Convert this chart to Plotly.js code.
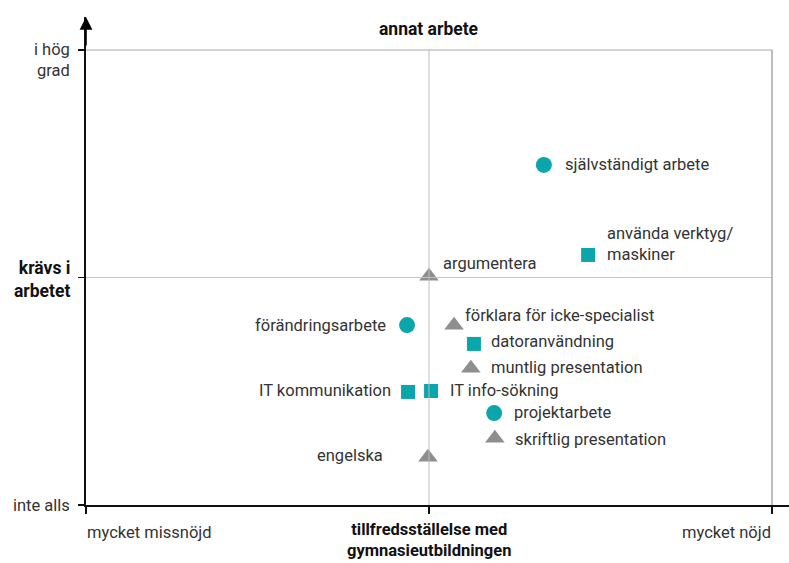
<!DOCTYPE html>
<html>
<head>
<meta charset="utf-8">
<script src="https://cdn.plot.ly/plotly-3.0.1.min.js"></script>
<style>
  html, body { margin: 0; padding: 0; background: #fff; }
  #chart { width: 789px; height: 563px; }
</style>
</head>
<body>
<div id="chart"></div>
<script>
// skills: satisfaction with upper-secondary education (x) vs how much the job requires it (y)
var labels = ['självständigt arbete', 'använda verktyg/<br>maskiner', 'argumentera', 'förändringsarbete',
  'förklara för icke-specialist', 'datoranvändning', 'muntlig presentation', 'IT kommunikation',
  'IT info-sökning', 'projektarbete', 'skriftlig presentation', 'engelska'];
var satisfaction = [1.335, 1.464, 1.0, 0.936, 1.073, 1.131, 1.122, 0.939, 1.006, 1.19, 1.192, 0.997];
var required = [1.495, 1.099, 1.005, 0.791, 0.79, 0.708, 0.601, 0.497, 0.501, 0.404, 0.293, 0.21];
var group = ['circle', 'square', 'triangle', 'circle', 'triangle', 'square', 'triangle', 'square',
  'square', 'circle', 'triangle', 'triangle'];

var yTickText = ['inte alls', 'krävs i<br>arbetet', 'i hög<br>grad'];
var xTickText = ['mycket missnöjd', 'tillfredsställelse med<br>gymnasieutbildningen', 'mycket nöjd'];

// label placement (pixel offsets from marker)
var labelPos = [
  [19, 0, 'left'], [17, 11, 'left'], [12, 13, 'left'], [-19, 0, 'right'],
  [9, 10, 'left'], [15, 2, 'left'], [18, 1, 'left'], [-15, 1, 'right'],
  [17, 1, 'left'], [18, 1, 'left'], [18, -1, 'left'], [-43, 2, 'right']
];

var teal = '#0aa6ab';
var grey = '#8e8e8e';
var font = 'Roboto, Liberation Sans, Arial, sans-serif';
var fs = 16.5;
var fsBold = 17.5;

var styles = {
  circle: { symbol: 'circle', color: teal, size: 16 },
  square: { symbol: 'square', color: teal, size: 14 },
  triangle: { symbol: 'triangle-up', color: grey, size: 17 }
};

var traces = ['circle', 'square', 'triangle'].map(function(g) {
  var idx = group.map(function(v, i) { return v === g ? i : -1; }).filter(function(i) { return i >= 0; });
  return {
    type: 'scatter', mode: 'markers',
    x: idx.map(function(i) { return satisfaction[i]; }),
    y: idx.map(function(i) { return required[i]; }),
    marker: { symbol: styles[g].symbol, color: styles[g].color, size: styles[g].size, line: { width: 0 } },
    hoverinfo: 'skip', showlegend: false, cliponaxis: false
  };
});

var annotations = labels.map(function(t, i) {
  return {
    x: satisfaction[i], y: required[i], xref: 'x', yref: 'y', text: t, showarrow: false,
    xanchor: labelPos[i][2], yanchor: 'middle', align: 'left',
    xshift: labelPos[i][0], yshift: labelPos[i][1],
    font: { family: font, size: fs, color: '#333' }
  };
});

// y axis labels
[0, 1, 2].forEach(function(v) {
  annotations.push({
    x: 0, y: v, xref: 'x', yref: 'y', text: v === 1 ? '<b>' + yTickText[v] + '</b>' : yTickText[v],
    showarrow: false, xanchor: 'right', yanchor: v === 2 ? 'top' : 'middle', align: 'right',
    xshift: -14, yshift: v === 2 ? 12 : (v === 1 ? -2 : 0),
    font: { family: font, size: v === 1 ? fsBold : fs, color: v === 1 ? '#111' : '#333' }
  });
});
// x axis labels
[0, 1, 2].forEach(function(v) {
  annotations.push({
    x: v, y: 0, xref: 'x', yref: 'y', text: v === 1 ? '<b>' + xTickText[v] + '</b>' : xTickText[v],
    showarrow: false, xanchor: v === 0 ? 'left' : (v === 2 ? 'right' : 'center'), yanchor: 'top',
    align: 'center', yshift: v === 1 ? -14 : -17, borderpad: 0,
    font: { family: font, size: v === 1 ? 16.5 : fs, color: v === 1 ? '#111' : '#333' }
  });
});
annotations.push({
  x: 1, y: 2, xref: 'x', yref: 'y', text: '<b>annat arbete</b>', showarrow: false,
  yanchor: 'bottom', yshift: 9, font: { family: font, size: fsBold, color: '#111' }
});
// axis arrow on top of the y axis
annotations.push({
  x: 0, y: 1, xref: 'x', yref: 'paper', text: '', showarrow: true, ax: 0, ay: 30,
  arrowhead: 2, arrowsize: 1.6, arrowwidth: 1.6, arrowcolor: '#000'
});

var shapes = [
  { type: 'line', x0: 0, x1: 2, y0: 1, y1: 1, line: { color: '#c4c4c4', width: 1 } },
  { type: 'line', x0: 0, x1: 2, y0: 2, y1: 2, line: { color: '#c4c4c4', width: 1.5 } },
  { type: 'line', x0: 1, x1: 1, y0: 0, y1: 2, line: { color: '#bdbdbd', width: 1 } },
  { type: 'line', x0: 2, x1: 2, y0: 0, y1: 2, line: { color: '#a8a8a8', width: 1.5 } }
];

var layout = {
  width: 789, height: 563,
  margin: { l: 86, r: 0, t: 17, b: 58 },
  paper_bgcolor: '#fff', plot_bgcolor: '#fff',
  showlegend: false,
  xaxis: {
    range: [0, 2.0496], showgrid: false, zeroline: false, showline: true,
    linecolor: '#111', linewidth: 2, tickvals: [0, 1, 2], ticks: 'outside', ticklen: 7,
    tickwidth: 1.5, tickcolor: '#111', showticklabels: false, fixedrange: true
  },
  yaxis: {
    range: [0, 2.145], showgrid: false, zeroline: false, showline: true,
    linecolor: '#111', linewidth: 2, tickvals: [0, 1, 2], ticks: 'outside', ticklen: 6,
    tickwidth: 1.5, tickcolor: '#111', showticklabels: false, fixedrange: true
  },
  shapes: shapes,
  annotations: annotations
};

Plotly.newPlot('chart', traces, layout, { displayModeBar: false, staticPlot: true });
</script>
</body>
</html>
